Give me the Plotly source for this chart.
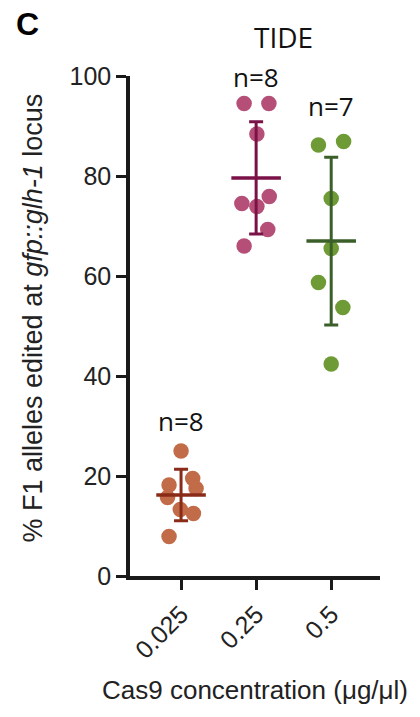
import numpy as np
import plotly.graph_objects as go

# ---- data ----
categories = ["0.025", "0.25", "0.5"]
vals_0025 = [25.0, 18.2, 19.5, 17.5, 15.7, 13.3, 12.5, 7.9]
vals_025 = [94.5, 94.5, 88.4, 74.5, 73.9, 75.9, 69.3, 66.0]
vals_05 = [86.2, 86.9, 75.5, 65.5, 58.7, 53.7, 42.4]
# horizontal scatter (jitter) of each dot, in category units
jit_0025 = [0.0, -0.16, 0.155, 0.20, -0.18, -0.01, 0.165, -0.16]
jit_025 = [-0.16, 0.17, 0.01, -0.19, 0.01, 0.175, 0.155, -0.16]
jit_05 = [-0.17, 0.165, 0.0, 0.0, -0.17, 0.155, 0.0]
y_ticks = [0, 20, 40, 60, 80, 100]

groups = [vals_0025, vals_025, vals_05]
jitters = [jit_0025, jit_025, jit_05]
dot_colors = ["#C26B48", "#B54F78", "#6F9B37"]
bar_colors = ["#8A2B18", "#7B1247", "#3B5F29"]
n_label_y = [31, 99.9, 94]

TXT = "Liberation Sans, Arial, sans-serif"
ALT = "Open Sans, sans-serif"

fig = go.Figure()
for i, (v, j) in enumerate(zip(groups, jitters)):
    fig.add_trace(go.Scatter(
        x=[i + d for d in j], y=v, mode="markers",
        marker=dict(size=15.5, color=dot_colors[i], line=dict(width=0)),
        showlegend=False, hoverinfo="y"))
for i, v in enumerate(groups):
    m = float(np.mean(v))
    sd = float(np.std(v, ddof=1))
    fig.add_trace(go.Scatter(
        x=[i], y=[m], mode="markers",
        marker=dict(size=1, color=bar_colors[i], opacity=0),
        error_y=dict(type="data", array=[sd], visible=True,
                     color=bar_colors[i], thickness=3, width=7),
        error_x=dict(type="constant", value=0.33, visible=True,
                     color=bar_colors[i], thickness=3.5, width=0),
        showlegend=False, hoverinfo="skip"))

annotations = []
for i, v in enumerate(groups):
    annotations.append(dict(x=i, y=n_label_y[i], xref="x", yref="y",
                            text=f"n={len(v)}", showarrow=False,
                            font=dict(family=ALT, size=26, color="#111"),
                            xanchor="center", yanchor="middle"))
annotations += [
    dict(x=0.612, y=1.078, xref="paper", yref="paper", text="TIDE",
         showarrow=False, font=dict(family=ALT, size=28, color="#111"),
         xanchor="center", yanchor="middle"),
    dict(x=-0.412, y=1.104, xref="paper", yref="paper", text="<b>C</b>",
         showarrow=False, font=dict(family=TXT, size=32, color="#000"),
         xanchor="center", yanchor="middle"),
    dict(x=-0.39, y=0.516, xref="paper", yref="paper", textangle=-90,
         text="% F1 alleles edited at <i>gfp::glh-1</i> locus",
         showarrow=False, font=dict(family=TXT, size=27, color="#222"),
         xanchor="center", yanchor="middle"),
    dict(x=0.5, y=-0.228, xref="paper", yref="paper",
         text="Cas9 concentration (μg/μl)",
         showarrow=False, font=dict(family=TXT, size=26, color="#222"),
         xanchor="center", yanchor="middle"),
]

fig.update_layout(
    width=420, height=717,
    margin=dict(l=130, r=40, t=76, b=141),
    paper_bgcolor="white", plot_bgcolor="white",
    annotations=annotations,
    xaxis=dict(range=[-0.68, 2.65], tickvals=[0, 1, 2], ticktext=categories,
               tickangle=-45, showgrid=False, zeroline=False,
               showline=True, linecolor="#1a1a1a", linewidth=3.5,
               ticks="outside", ticklen=10, tickwidth=3, tickcolor="#1a1a1a",
               tickfont=dict(family=TXT, size=25, color="#222")),
    yaxis=dict(range=[0, 100], tickvals=y_ticks, showgrid=False,
               zeroline=False, showline=True, linecolor="#1a1a1a",
               linewidth=3.5, ticks="outside", ticklen=10, tickwidth=3,
               tickcolor="#1a1a1a",
               tickfont=dict(family=TXT, size=25, color="#222")),
)

fig.write_html("out.html")
